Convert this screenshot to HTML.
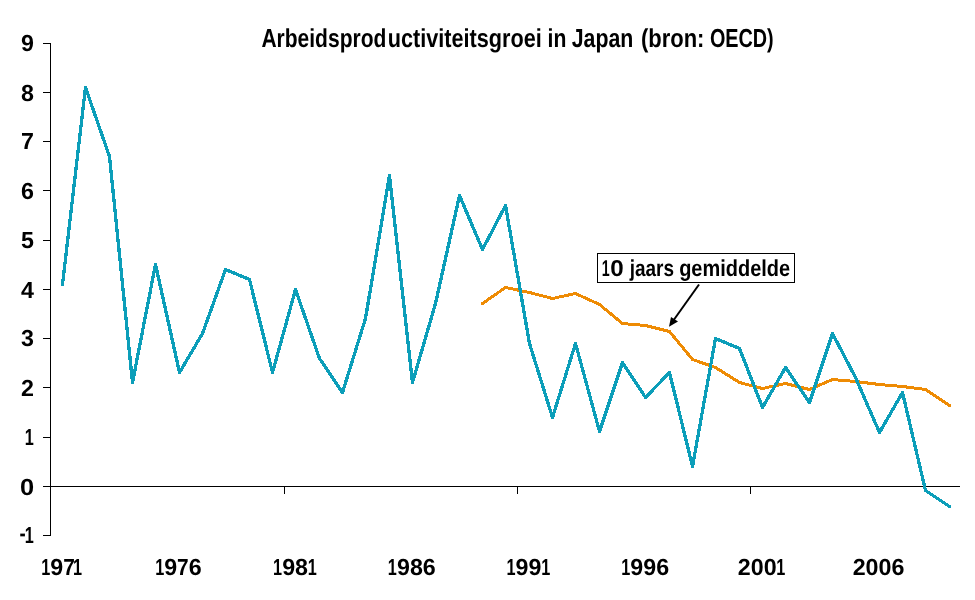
<!DOCTYPE html>
<html lang="nl">
<head>
<meta charset="utf-8">
<title>Arbeidsproductiviteitsgroei in Japan</title>
<style>
html,body{margin:0;padding:0;background:#fff;}
body{width:975px;height:600px;overflow:hidden;}
svg{display:block;}
text{font-family:"Liberation Sans",sans-serif;font-weight:bold;fill:#000;text-rendering:geometricPrecision;}
.t{font-size:26px;}
.a{font-size:23px;}
.n{font-size:23.25px;}
</style>
</head>
<body>
<svg width="975" height="600" viewBox="0 0 975 600">
<rect x="0" y="0" width="975" height="600" fill="#ffffff"/>
<g shape-rendering="crispEdges" stroke="#000" stroke-width="1" fill="none">
<line x1="50.5" y1="43" x2="50.5" y2="536"/>
<line x1="50" y1="486.5" x2="960" y2="486.5"/>
<line x1="43" y1="43.5" x2="50" y2="43.5"/>
<line x1="43" y1="92.5" x2="50" y2="92.5"/>
<line x1="43" y1="141.5" x2="50" y2="141.5"/>
<line x1="43" y1="190.5" x2="50" y2="190.5"/>
<line x1="43" y1="240.5" x2="50" y2="240.5"/>
<line x1="43" y1="289.5" x2="50" y2="289.5"/>
<line x1="43" y1="338.5" x2="50" y2="338.5"/>
<line x1="43" y1="387.5" x2="50" y2="387.5"/>
<line x1="43" y1="437.5" x2="50" y2="437.5"/>
<line x1="43" y1="486.5" x2="50" y2="486.5"/>
<line x1="43" y1="535.5" x2="50" y2="535.5"/>
<line x1="284.5" y1="487" x2="284.5" y2="494"/>
<line x1="517.5" y1="487" x2="517.5" y2="494"/>
<line x1="750.5" y1="487" x2="750.5" y2="494"/>
</g>
<polyline shape-rendering="crispEdges" points="482.5,303.5 505.5,287.5 529.5,292.5 552.5,298.5 575.5,293.5 599.5,304.5 622.5,323.5 645.5,325.5 669.5,331.5 692.5,359.5 715.5,367.5 739.5,382.5 762.5,388.5 785.5,383.5 809.5,389.5 832.5,379.5 855.5,381.5 879.5,384.5 902.5,386.5 925.5,389.5 949.5,405.5" fill="none" stroke="#EE8B04" stroke-width="3" stroke-linejoin="round" stroke-linecap="round"/>
<polyline shape-rendering="crispEdges" points="62.5,284.5 85.5,87.5 109.5,156.5 132.5,382.5 155.5,264.5 179.5,372.5 202.5,333.5 225.5,269.5 249.5,279.5 272.5,372.5 295.5,289.5 319.5,358.5 342.5,392.5 365.5,318.5 389.5,175.5 412.5,382.5 435.5,303.5 459.5,195.5 482.5,249.5 505.5,205.5 529.5,343.5 552.5,417.5 575.5,343.5 599.5,431.5 622.5,362.5 645.5,397.5 669.5,372.5 692.5,466.5 715.5,338.5 739.5,348.5 762.5,407.5 785.5,367.5 809.5,402.5 832.5,333.5 855.5,377.5 879.5,432.5 902.5,392.5 925.5,490.5 949.5,506.5" fill="none" stroke="#0C9EB9" stroke-width="3.3" stroke-linejoin="round" stroke-linecap="round"/>
<text class="n" x="19.9" y="495" textLength="14.15" lengthAdjust="spacingAndGlyphs">0</text>
<text class="n" y="445"><tspan x="24.80" textLength="9.05" lengthAdjust="spacingAndGlyphs">1</tspan></text>
<text class="n" x="34" y="396" text-anchor="end">2</text>
<text class="n" x="34" y="346" text-anchor="end">3</text>
<text class="n" x="34" y="298" text-anchor="end">4</text>
<text class="n" x="34" y="248" text-anchor="end">5</text>
<text class="n" x="34" y="199" text-anchor="end">6</text>
<text class="n" x="34" y="149" text-anchor="end">7</text>
<text class="n" x="34" y="101" text-anchor="end">8</text>
<text class="n" x="34" y="51" text-anchor="end">9</text>
<text class="n" y="543"><tspan x="19.5" dy="-1.9" textLength="6.2" lengthAdjust="spacingAndGlyphs">-</tspan><tspan dy="1.9"><tspan x="24.80" textLength="9.05" lengthAdjust="spacingAndGlyphs">1</tspan></tspan></text>
<text class="n" y="575"><tspan x="41.25" textLength="9.05" lengthAdjust="spacingAndGlyphs">1</tspan><tspan x="50.35">9</tspan><tspan x="63.18" textLength="11.64" lengthAdjust="spacingAndGlyphs">7</tspan><tspan x="72.98" textLength="9.05" lengthAdjust="spacingAndGlyphs">1</tspan></text>
<text class="n" y="575"><tspan x="155.15" textLength="9.05" lengthAdjust="spacingAndGlyphs">1</tspan><tspan x="164.25">9</tspan><tspan x="177.08" textLength="11.64" lengthAdjust="spacingAndGlyphs">7</tspan><tspan x="188.68">6</tspan></text>
<text class="n" y="575"><tspan x="273.07" textLength="9.05" lengthAdjust="spacingAndGlyphs">1</tspan><tspan x="282.17">98</tspan><tspan x="307.83" textLength="9.05" lengthAdjust="spacingAndGlyphs">1</tspan></text>
<text class="n" y="575"><tspan x="387.87" textLength="9.05" lengthAdjust="spacingAndGlyphs">1</tspan><tspan x="396.97">986</tspan></text>
<text class="n" y="575"><tspan x="506.40" textLength="9.05" lengthAdjust="spacingAndGlyphs">1</tspan><tspan x="515.50">99</tspan><tspan x="541.16" textLength="9.05" lengthAdjust="spacingAndGlyphs">1</tspan></text>
<text class="n" y="575"><tspan x="621.20" textLength="9.05" lengthAdjust="spacingAndGlyphs">1</tspan><tspan x="630.30">996</tspan></text>
<text class="n" y="575"><tspan x="737.87">200</tspan><tspan x="776.36" textLength="9.05" lengthAdjust="spacingAndGlyphs">1</tspan></text>
<text class="n" y="575"><tspan x="852.67">2006</tspan></text>
<text class="t" y="47"><tspan x="261.38" textLength="125.01" lengthAdjust="spacingAndGlyphs">Arbeidsprod</tspan><tspan x="387.66" textLength="154.08" lengthAdjust="spacingAndGlyphs">uctiviteitsgroei</tspan> <tspan x="547.52" textLength="18.79" lengthAdjust="spacingAndGlyphs">in</tspan> <tspan x="571.68" textLength="61.65" lengthAdjust="spacingAndGlyphs">Japan</tspan> <tspan x="640.90" textLength="63.51" lengthAdjust="spacingAndGlyphs">(bron:</tspan> <tspan x="709.89" textLength="63.80" lengthAdjust="spacingAndGlyphs">OECD)</tspan></text>
<rect x="597.5" y="253.5" width="197" height="29" fill="#fff" stroke="#000" stroke-width="1" shape-rendering="crispEdges"/>
<text class="a" y="275.8"><tspan x="601.70" textLength="7.93" lengthAdjust="spacingAndGlyphs">1</tspan><tspan x="610.24" textLength="13.45" lengthAdjust="spacingAndGlyphs">0</tspan> <tspan x="629.70" textLength="44.28" lengthAdjust="spacingAndGlyphs">jaars</tspan> <tspan x="679.18" textLength="111.00" lengthAdjust="spacingAndGlyphs">gemiddelde</tspan></text>
<line x1="699" y1="284.5" x2="673" y2="321" stroke="#000" stroke-width="2"/>
<polygon points="669,326.8 671,317 678,321.5" fill="#000"/>
</svg>
</body>
</html>
